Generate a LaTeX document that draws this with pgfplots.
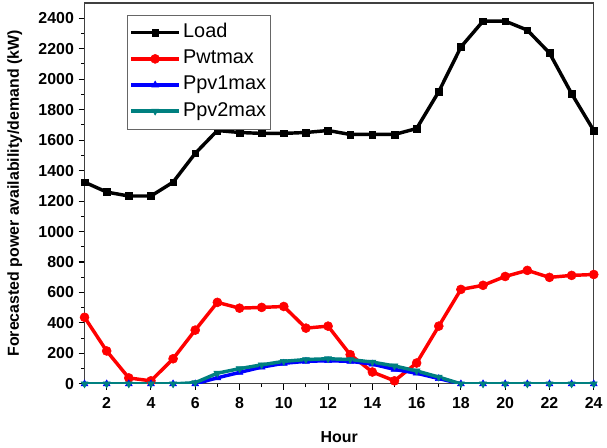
\documentclass[border=0pt]{standalone}
\usepackage{fontspec}
\setmainfont{Liberation Sans}
\usepackage{pgfplots}
\pgfplotsset{compat=1.18}
\definecolor{myteal}{RGB}{0,128,128}
\begin{document}
\begin{tikzpicture}
\begin{axis}[
  scale only axis,
  width=384pt, height=287.25pt,
  xmin=1, xmax=24, ymin=0, ymax=2500,
  xtick={2,4,...,24}, ytick={0,200,...,2400},
  minor x tick num=1, minor y tick num=1,
  tick align=outside,
  xtick pos=left, ytick pos=left,
  major tick length=4.5pt, minor tick length=2.5pt,
  axis line style={black!75, line width=0.9pt},
  every tick/.style={black, line width=0.8pt},
  /pgf/number format/assume math mode=true,
  /pgf/number format/1000 sep={},
  tick label style={font=\bfseries\fontsize{12}{14}\selectfont},
  xticklabel style={yshift=-2.5pt},
  xlabel={Hour},
  ylabel={Forecasted power availability/demand (kW)},
  label style={font=\bfseries\fontsize{12}{14}\selectfont},
  x label style={at={(axis description cs:0.5,-0.14)}, anchor=center},
  y label style={at={(axis description cs:-0.137,0.5)}, anchor=center, rotate=0},
  legend style={at={(0.084,0.969)}, anchor=north west, draw=black!60,
    font=\fontsize{15}{17}\selectfont, row sep=0pt, inner xsep=1.5pt, inner ysep=3.5pt,
    nodes={inner xsep=1.8pt, inner ysep=2.6pt, text height=11pt, text depth=3.5pt}},
  legend cell align=left,
  legend image code/.code={\draw[mark repeat=2,mark phase=2] plot coordinates {(0pt,0pt) (18pt,0pt) (36pt,0pt)};},
]
\addplot[black, line width=2.6pt, mark=square*, mark size=2.5pt, mark options={solid, line width=0.4pt}] coordinates {
(1,1324) (2,1259) (3,1233) (4,1233) (5,1324) (6,1513) (7,1663) (8,1650) (9,1644) (10,1644) (11,1650) (12,1663)
(13,1637) (14,1637) (15,1637) (16,1676) (17,1918) (18,2211) (19,2381) (20,2381) (21,2322) (22,2172) (23,1905) (24,1663)};
\addlegendentry{Load}
\addplot[red, line width=2.6pt, mark=*, mark size=3.4pt, mark options={line width=0.4pt}] coordinates {
(1,437) (2,216) (3,39) (4,20) (5,165) (6,353) (7,535) (8,497) (9,502) (10,508) (11,366) (12,379)
(13,192) (14,78) (15,20) (16,137) (17,379) (18,620) (19,647) (20,705) (21,745) (22,699) (23,712) (24,718)};
\addlegendentry{Pwtmax}
\addplot[blue, line width=2.6pt, mark=triangle*, mark size=3pt, mark options={line width=0.4pt}] coordinates {
(1,0) (2,0) (3,0) (4,0) (5,0) (6,0) (7,40) (8,75) (9,110) (10,135) (11,148) (12,152)
(13,148) (14,130) (15,95) (16,70) (17,35) (18,0) (19,0) (20,0) (21,0) (22,0) (23,0) (24,0)};
\addlegendentry{Ppv1max}
\addplot[myteal, line width=2.6pt, mark=triangle*, mark size=3pt, mark options={rotate=180, line width=0.4pt}] coordinates {
(1,0) (2,0) (3,0) (4,0) (5,0) (6,8) (7,70) (8,100) (9,125) (10,148) (11,160) (12,165)
(13,160) (14,143) (15,118) (16,85) (17,45) (18,0) (19,0) (20,0) (21,0) (22,0) (23,0) (24,0)};
\addlegendentry{Ppv2max}
\end{axis}
\path (current axis.south west) ++(-63.75pt,-46.5pt) coordinate (bbA);
\path (current axis.north east) ++(7.5pt,2.25pt) coordinate (bbB);
\path (bbA) rectangle (bbB);
\end{tikzpicture}
\end{document}
